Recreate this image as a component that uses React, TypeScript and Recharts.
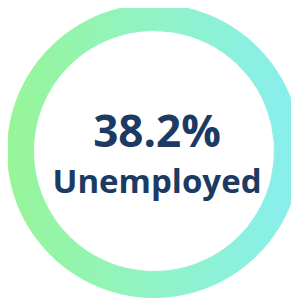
import React from "react";
import { PieChart, Pie, Cell } from "recharts";

const segments = ["Unemployed", "Other"];
const values = [38.2, 61.8];
const headline = "38.2%";
const caption = "Unemployed";

const data = segments.map((name, i) => ({ name, value: values[i] }));

export default function App() {
  return (
    <div style={{ position: "relative", width: 299, height: 301, margin: "-8px 0 0 -8px", background: "#fff" }}>
      <PieChart width={299} height={301} margin={{ top: 0, right: 0, bottom: 0, left: 0 }}>
        <defs>
          <linearGradient id="ringGrad" gradientUnits="userSpaceOnUse" x1="7" y1="0" x2="301" y2="0">
            <stop offset="0%" stopColor="#97f597" />
            <stop offset="50%" stopColor="#90f3c6" />
            <stop offset="100%" stopColor="#88eeee" />
          </linearGradient>
        </defs>
        <Pie
          data={data}
          dataKey="value"
          cx={154}
          cy={151}
          innerRadius={120.5}
          outerRadius={146.5}
          startAngle={90}
          endAngle={-270}
          stroke="url(#ringGrad)"
          strokeWidth={1}
          paddingAngle={0}
          isAnimationActive={false}
        >
          {data.map((d) => (
            <Cell key={d.name} fill="url(#ringGrad)" stroke="url(#ringGrad)" strokeWidth={1} />
          ))}
        </Pie>
      </PieChart>
      <svg width={299} height={301} style={{ position: "absolute", left: 0, top: 0, pointerEvents: "none" }}>
        <text x={157} y={147} textAnchor="middle" fontFamily="'Open Sans', sans-serif" fontWeight={700} fontSize={44} fill="#1c3a62">
          {headline}
        </text>
        <text x={157} y={193} textAnchor="middle" fontFamily="'Open Sans', sans-serif" fontWeight={700} fontSize={33} fill="#1c3a62">
          {caption}
        </text>
      </svg>
    </div>
  );
}
